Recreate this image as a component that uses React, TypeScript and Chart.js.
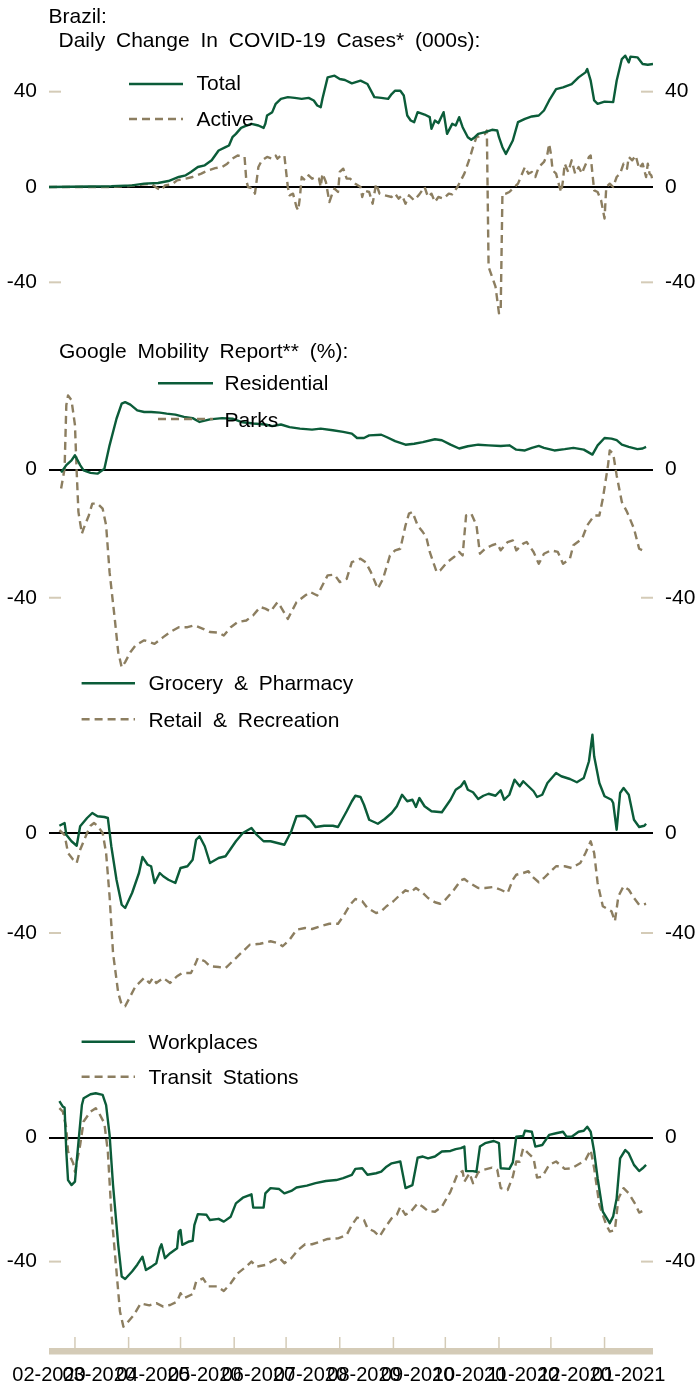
import React, { useEffect, useRef } from "react";
import { Chart, registerables } from "chart.js";

Chart.register(...registerables);

const FONT = "'Liberation Sans', Arial, Helvetica, sans-serif";
const GREEN = "#0b5c39";
const TAN = "#8c7e60";
const AXIS_TAN = "#d4cbb7";

Chart.defaults.font.family = FONT;
Chart.defaults.color = "#000";

// x values are day numbers counted from 1 Feb 2020 (day 0)
const monthLabels = ["02-2020", "03-2020", "04-2020", "05-2020", "06-2020", "07-2020", "08-2020", "09-2020", "10-2020", "11-2020", "12-2020", "01-2021"];
const labelDays = [14, 43, 74, 104, 135, 165, 196, 227, 257, 288, 318, 349];
const monthStartDays = [29, 60, 90, 121, 151, 182, 213, 243, 274, 304, 335];
const X_MIN = 14;
const X_MAX = 363;

// Panel 1: daily change in COVID-19 cases (000s)
const totalDays = [14, 50, 62, 69, 77, 83, 89, 93, 96, 100, 104, 108, 112, 116, 118, 120, 122, 125, 127, 131, 135, 138, 139, 140, 143, 145, 148, 152, 156, 160, 164, 167, 169, 171, 172, 175, 179, 182, 185, 189, 194, 198, 202, 206, 210, 212, 214, 217, 219, 221, 223, 225, 227, 231, 234, 235, 237, 239, 242, 244, 247, 249, 251, 253, 256, 258, 260, 262, 266, 270, 273, 274, 276, 278, 280, 282, 285, 289, 293, 297, 300, 303, 307, 311, 316, 320, 324, 325, 327, 329, 331, 335, 340, 342, 345, 347, 349, 350, 354, 357, 360, 363];
const totalCases = [0, 0.3, 0.7, 1.4, 1.7, 2.5, 4.2, 4.9, 6.3, 8.4, 9.1, 11.2, 15.3, 16.7, 17.4, 20.9, 22.3, 24.8, 25.4, 26.5, 25.8, 24.8, 26.5, 30, 31.4, 34.9, 37, 37.7, 37.4, 37, 37.4, 36.3, 34.2, 33.5, 37, 46, 46.7, 45.3, 44.9, 43.5, 44.6, 43.2, 37.7, 37.4, 37, 39, 40.4, 40.4, 38.4, 30, 27.9, 27.2, 31.4, 30.4, 29.3, 24.4, 27.9, 26.8, 31.4, 22.3, 26.5, 25.8, 29.3, 25.1, 20.9, 19.8, 20.9, 22.3, 23, 24, 23.7, 20.9, 16.7, 13.9, 16.7, 19.5, 27.2, 28.6, 29.6, 30, 32.1, 36.3, 41.1, 41.8, 43.2, 46, 48.1, 49.5, 44.6, 36.3, 34.9, 35.8, 35.6, 44.6, 53.7, 55.1, 52.3, 54.7, 54.4, 51.6, 51.3, 51.6];

const activeDays = [14, 50, 60, 69, 73, 77, 79, 81, 85, 88, 93, 97, 102, 106, 110, 114, 117, 120, 123, 126, 127, 128, 129, 132, 133, 135, 137, 140, 143, 145, 146, 148, 150, 152, 153, 155, 157, 158, 159, 160, 162, 164, 166, 168, 170, 171, 172, 174, 176, 178, 179, 181, 182, 184, 186, 188, 191, 194, 195, 196, 199, 201, 203, 205, 208, 212, 214, 216, 218, 220, 222, 225, 228, 231, 233, 235, 237, 239, 242, 245, 247, 250, 252, 254, 257, 259, 261, 264, 266, 267, 268, 272, 274, 275, 276, 278, 280, 283, 285, 287, 289, 291, 293, 295, 297, 298, 300, 302, 303, 304, 305, 307, 309, 310, 311, 312, 314, 316, 318, 320, 322, 323, 326, 327, 328, 329, 331, 333, 335, 336, 338, 340, 342, 344, 346, 348, 349, 351, 353, 355, 357, 359, 360, 361, 362, 363];
const activeCases = [0, 0, 0.4, 1.1, 1.4, -0.7, -1.4, 0.7, 1.1, 2.8, 3.5, 4.2, 5.6, 7, 7.9, 8.4, 9.8, 11.9, 13.2, 12.8, 12.6, 2.8, 0, -0.7, -2.8, 8.4, 11.2, 12.6, 11.9, 13.2, 11.9, 13.2, 13.2, 0, -3.5, -2.8, -8.4, -9.8, -4.2, 4.2, 2.8, 4.9, 3.5, 4.2, 3.5, 0, 5.6, 2.1, -6.3, -2.1, -0.7, -2.1, 6.3, 7.7, 3.5, 3.5, 1.4, 0, -4.2, -1.4, -2.1, -7, 1.4, -2.8, -3.5, -4.2, -2.8, -4.9, -3.5, -7, -3.5, -5.6, -3.1, 0, -4.2, -2.8, -6.3, -4.2, -4.9, -2.8, -3.1, 0, 2.8, 5.6, 11.9, 16.7, 20.9, 21.6, 22.3, 23.7, -33.5, -41.8, -53, -51.6, -2.8, -2.8, -2.1, 0, 1.4, 4.9, 8.4, 5.6, 6.3, 4.2, 8.4, 9.1, 10.5, 13.9, 18.1, 13.9, 7, 5.6, 0, -2.1, 2.8, 9.8, 6.3, 11.2, 5.6, 8.4, 5.6, 7.7, 12.6, 13.2, 5.6, -1.4, -2.1, -5.6, -13.2, 0, 1.4, 0, 4.2, 5.6, 9.8, 7.7, 12.6, 11.2, 13.2, 7.7, 9.8, 4.2, 9.8, 5.6, 4.9, 2.1];

// Panel 2: Google mobility, residential and parks (%)
const residentialDays = [21, 24, 27, 29, 32, 34, 38, 42, 46, 49, 53, 56, 58, 61, 65, 69, 73, 78, 82, 87, 92, 97, 101, 107, 114, 120, 125, 132, 139, 143, 148, 153, 159, 166, 171, 178, 184, 189, 192, 196, 199, 206, 209, 214, 220, 225, 230, 237, 241, 246, 251, 256, 262, 268, 275, 280, 284, 289, 293, 297, 300, 306, 312, 317, 323, 328, 331, 335, 339, 342, 345, 349, 354, 357, 359];
const residential = [-0.9, 1.4, 2.9, 4.5, 1.4, -0.2, -1, -1.25, 0.3, 7.6, 15.9, 20.6, 21.1, 20.3, 18.5, 18, 18, 17.8, 17.5, 17.2, 16.5, 16.1, 14.9, 15.7, 16.1, 15.9, 14.9, 14.4, 14.1, 13.6, 14.1, 13.3, 12.8, 12.5, 12.8, 12.3, 11.8, 11.25, 9.9, 9.9, 10.7, 10.9, 10.2, 8.9, 7.8, 8.1, 8.6, 9.5, 9.2, 7.8, 6.6, 7.3, 7.8, 7.6, 7.4, 7.6, 6.25, 6, 6.8, 7.4, 6.8, 6, 6.4, 6.8, 6.25, 4.7, 7.6, 9.9, 9.7, 9.2, 7.8, 7.1, 6.4, 6.6, 7.1];

const parksDays = [21, 23, 24, 25, 27, 29, 30, 31, 33, 34, 37, 39, 42, 45, 47, 49, 52, 54, 56, 58, 61, 64, 69, 72, 75, 80, 84, 89, 94, 98, 103, 107, 112, 115, 119, 123, 128, 132, 136, 139, 142, 146, 148, 152, 154, 157, 162, 165, 169, 171, 175, 179, 182, 186, 189, 194, 197, 200, 204, 207, 211, 214, 217, 220, 222, 224, 227, 230, 232, 234, 238, 240, 244, 248, 251, 253, 255, 258, 261, 263, 266, 270, 273, 275, 279, 282, 284, 288, 290, 294, 297, 300, 304, 308, 311, 315, 317, 322, 325, 329, 332, 334, 337, 338, 340, 342, 345, 348, 352, 355, 357, 359];
const parks = [-5.9, 0.3, 20.1, 23.2, 21.7, 13.9, -0.7, -13.2, -20, -18.4, -14.3, -10.6, -10.6, -12.2, -17.4, -32, -46.6, -57, -61.7, -60.1, -57, -54.9, -53.3, -53.8, -54.4, -52.3, -50.7, -49.2, -49.2, -48.6, -49.7, -50.7, -50.9, -51.8, -49.2, -47.6, -47.1, -45.5, -42.9, -43.4, -44.3, -41.4, -42.9, -46.6, -44.5, -41.4, -39.3, -38.2, -39.3, -37.2, -33, -32.8, -35.1, -34.1, -28.9, -27.8, -28.9, -32, -37.2, -34.1, -26.8, -25.2, -24.7, -17.4, -13.75, -13.2, -17.4, -19.5, -21, -25.7, -32, -31.5, -28.9, -27.3, -25.7, -26.8, -14.3, -13.75, -17.4, -26.25, -24.7, -23.6, -23.1, -25.2, -22.6, -22.1, -25.2, -23.1, -22.6, -25.7, -29.4, -26.25, -25.2, -25.7, -29.4, -27.8, -23.6, -21.6, -17.4, -14.3, -14.3, -9.1, 1.35, 6, 5, -1.8, -10.1, -13.2, -18.4, -24.7, -25.2, -25.2];

// Panel 3: grocery & pharmacy, retail & recreation (%)
const groceryDays = [20, 23, 24, 27, 30, 32, 36, 39, 42, 46, 48, 50, 53, 56, 58, 62, 66, 68, 71, 73, 75, 78, 80, 83, 87, 90, 94, 97, 99, 101, 104, 107, 112, 116, 118, 122, 126, 131, 134, 138, 142, 146, 150, 154, 157, 162, 165, 168, 173, 178, 181, 186, 189, 191, 194, 196, 199, 204, 208, 212, 215, 218, 221, 224, 226, 228, 231, 235, 241, 246, 249, 252, 254, 256, 259, 262, 265, 268, 272, 275, 277, 280, 283, 286, 288, 291, 294, 296, 299, 302, 307, 310, 315, 319, 323, 326, 328, 329, 332, 335, 339, 340, 342, 344, 346, 349, 352, 355, 358, 359];
const grocery = [2.9, 4, -0.7, -3.3, -5.1, 2.7, 6, 8, 6.7, 6.4, 6, -5.3, -18.7, -28.7, -30, -24, -16, -9.6, -12.7, -13.3, -20, -16, -17.3, -18.7, -20, -14, -13.3, -10.7, -2.7, -1.3, -5.3, -12, -10, -9.3, -7.3, -3.3, 0, 2, -0.7, -3.3, -3.3, -4, -4.7, 0.7, 6.7, 6.9, 5.3, 2.4, 2.9, 2.9, 2.4, 8.7, 12.7, 14.9, 14.4, 11.3, 5.3, 3.7, 5.6, 8, 10.7, 15.3, 12.7, 13.3, 10.4, 14, 10.7, 8.7, 8.3, 13.3, 17.3, 18.7, 20.7, 17.3, 16.3, 13.6, 14.9, 15.7, 14.9, 17.1, 13.3, 15.3, 21.3, 18.7, 20.7, 18.7, 16.7, 14.4, 15.3, 20, 24, 22.7, 21.6, 20.3, 22, 28.7, 39.3, 30.7, 20, 14.7, 13.3, 12, 1.3, 16, 18, 15.3, 5.3, 2.4, 2.9, 3.7];

const retailDays = [20, 23, 25, 28, 30, 32, 36, 38, 40, 42, 45, 47, 49, 51, 54, 56, 58, 61, 64, 69, 72, 74, 76, 80, 84, 88, 91, 96, 98, 100, 104, 107, 112, 116, 121, 125, 130, 136, 142, 146, 149, 153, 157, 162, 166, 171, 176, 181, 184, 188, 191, 195, 198, 203, 206, 209, 213, 216, 220, 223, 226, 230, 233, 237, 240, 243, 248, 252, 254, 257, 262, 266, 271, 275, 279, 282, 284, 288, 291, 293, 297, 300, 304, 307, 312, 316, 321, 324, 327, 329, 331, 334, 339, 341, 343, 346, 349, 352, 355, 357, 359];
const retail = [1.1, -0.7, -8, -10.7, -12, -6.7, 0, 2.9, 4, 2.9, 0, -8, -25.3, -48, -64, -68.7, -69.3, -65.3, -61.3, -58, -60, -58, -60, -58, -60, -57.3, -56, -56, -53.3, -50, -51.3, -53.3, -53.6, -54, -50.7, -48, -44.7, -44.3, -43.3, -44, -45.3, -42.7, -38.7, -38, -38.4, -37.3, -36.3, -36.3, -33.3, -28.7, -26.4, -27.3, -30, -32, -31.3, -29.3, -27.3, -25.3, -22.9, -23.7, -22, -24, -26, -27.7, -28.3, -26.7, -22.7, -18.9, -18.4, -20, -22, -22, -21.6, -22.7, -24, -18.7, -16.7, -16, -15.3, -17.3, -19.7, -18, -15.3, -13.3, -13.3, -14, -12, -8, -3.3, -8, -20, -29.3, -31.3, -35.3, -25.3, -21.3, -22.7, -26, -28.7, -28.7, -28.3];

// Panel 4: workplaces and transit stations (%)
const workplacesDays = [20, 22, 23, 24, 25, 27, 29, 30, 33, 34, 38, 41, 45, 47, 49, 51, 54, 56, 58, 62, 65, 68, 70, 73, 76, 78, 79, 81, 84, 88, 89, 90, 91, 95, 97, 98, 100, 105, 107, 112, 115, 119, 122, 126, 131, 132, 138, 139, 142, 147, 150, 154, 157, 163, 168, 174, 180, 184, 189, 191, 195, 198, 203, 206, 209, 212, 217, 220, 224, 227, 230, 233, 237, 241, 246, 249, 252, 254, 255, 259, 261, 263, 266, 271, 274, 275, 280, 282, 284, 288, 289, 293, 295, 299, 303, 307, 311, 313, 316, 320, 323, 325, 327, 329, 331, 334, 338, 340, 342, 344, 347, 349, 352, 355, 357, 359];
const workplaces = [11.8, 10, 9.7, -4.5, -13.7, -15.3, -14.2, -7.7, 10.5, 12.7, 14, 14.3, 13.8, 10.5, 0.9, -15.3, -34.6, -44.8, -45.6, -43.2, -41, -38.4, -42.7, -41.7, -40.5, -35.7, -34.4, -38.9, -37.3, -35.7, -30.3, -29.8, -34.6, -33.5, -33.3, -28.2, -24.7, -24.9, -26.6, -26.2, -27.1, -25.5, -21.2, -19.4, -18.3, -22.6, -22.6, -18, -16.3, -16.6, -18, -17.2, -16.1, -15.5, -14.7, -14, -13.7, -13.1, -12, -10.1, -9.9, -12, -11.5, -11, -9.4, -8.3, -7.7, -16.3, -15.3, -6.5, -6.1, -6.7, -6.1, -4.5, -4.3, -3.7, -3.4, -2.9, -10.8, -10.8, -11, -2.9, -1.8, -1.1, -1.8, -9.9, -10.1, -8, 0.3, 0.5, 2.2, 1.9, -2.9, -2.4, 0.9, 1.4, 1.9, 0.3, 0.3, 1.9, 2.2, 3.5, 1.9, -4.5, -13.1, -23.9, -27.6, -25.4, -19.6, -6.7, -4, -5.1, -8.8, -10.8, -9.9, -8.8];

const transitDays = [20, 22, 24, 25, 28, 29, 32, 34, 38, 41, 43, 46, 48, 50, 53, 55, 57, 59, 63, 67, 72, 76, 80, 84, 88, 90, 92, 97, 99, 103, 106, 111, 115, 119, 123, 128, 131, 134, 139, 144, 147, 150, 154, 158, 162, 166, 171, 175, 181, 186, 189, 192, 196, 198, 202, 205, 208, 212, 215, 217, 220, 223, 227, 230, 233, 237, 241, 246, 250, 253, 254, 257, 259, 262, 265, 270, 273, 275, 279, 282, 284, 286, 288, 291, 294, 296, 299, 303, 307, 312, 316, 321, 324, 327, 329, 332, 336, 338, 341, 343, 346, 349, 353, 355, 358, 359];
const transit = [9.5, 8.4, 3, -4.5, -8.3, -11, -2.4, 5.2, 8.4, 9.5, 7.8, 4.6, -4.5, -23.9, -43.2, -56.1, -61, -59.9, -57.2, -53.5, -54.1, -53.4, -54.5, -54, -52.9, -50.2, -51.8, -50.5, -46.5, -45.4, -48, -48, -49.5, -47, -43.8, -41.6, -40, -41.6, -41.1, -39.5, -38.7, -40.5, -38.9, -36.2, -34.4, -34.4, -33.5, -32.7, -32.5, -31.4, -28.2, -25.8, -26.6, -29.2, -30.3, -31.9, -29.2, -26, -24.9, -22.3, -24.9, -23.9, -21.2, -22.3, -23.7, -23.9, -22.3, -17.4, -11.8, -10.8, -14.2, -11.5, -14.7, -11.2, -10.4, -9.7, -10.4, -16.3, -16.9, -12.6, -7.7, -7.8, -3.4, -5.1, -6.7, -12.9, -12.6, -8.8, -7.7, -10.1, -9.9, -8.3, -7.2, -4, -9.9, -21.7, -28.2, -30.3, -29.8, -19.6, -16.3, -18, -21.7, -24.2, -23.4, -23];

type Series = { label: string; days: number[]; vals: number[]; dashed: boolean };
type LegendSpec = { x1: number; x2: number; textX: number; lineY: number[]; textY: number[] };
type Note = { text: string; x: number; y: number };
type PanelSpec = {
  top: number;
  height: number;
  padTop: number;
  padBottom: number;
  yMin: number;
  yMax: number;
  yTicks: number[];
  series: Series[];
  legend: LegendSpec;
  notes: Note[];
  showDates: boolean;
};

const panels: PanelSpec[] = [
  {
    top: 0, height: 355, padTop: 44, padBottom: 25,
    yMin: -60, yMax: 60, yTicks: [-40, 0, 40],
    series: [
      { label: "Total", days: totalDays, vals: totalCases, dashed: false },
      { label: "Active", days: activeDays, vals: activeCases, dashed: true },
    ],
    legend: { x1: 129, x2: 183, textX: 196.5, lineY: [84, 119], textY: [90, 126] },
    notes: [
      { text: "Brazil:", x: 48.5, y: 23.3 },
      { text: "Daily Change In COVID-19 Cases* (000s):", x: 58.5, y: 46.5 },
    ],
    showDates: false,
  },
  {
    top: 330, height: 376, padTop: 50, padBottom: 25,
    yMin: -66, yMax: 28, yTicks: [-40, 0],
    series: [
      { label: "Residential", days: residentialDays, vals: residential, dashed: false },
      { label: "Parks", days: parksDays, vals: parks, dashed: true },
    ],
    legend: { x1: 158, x2: 213, textX: 224.5, lineY: [383.3, 419], textY: [390, 426.5] },
    notes: [{ text: "Google Mobility Report** (%):", x: 59, y: 357.5 }],
    showDates: false,
  },
  {
    top: 665, height: 373, padTop: 58, padBottom: 25,
    yMin: -72, yMax: 44, yTicks: [-40, 0],
    series: [
      { label: "Grocery & Pharmacy", days: groceryDays, vals: grocery, dashed: false },
      { label: "Retail & Recreation", days: retailDays, vals: retail, dashed: true },
    ],
    legend: { x1: 81.6, x2: 135, textX: 148.4, lineY: [683.3, 719.3], textY: [690, 726.5] },
    notes: [],
    showDates: false,
  },
  {
    top: 1020, height: 371, padTop: 68, padBottom: 0,
    yMin: -64, yMax: 16, yTicks: [-40, 0],
    series: [
      { label: "Workplaces", days: workplacesDays, vals: workplaces, dashed: false },
      { label: "Transit Stations", days: transitDays, vals: transit, dashed: true },
    ],
    legend: { x1: 81.6, x2: 135, textX: 148.5, lineY: [1041.7, 1076.7], textY: [1048.7, 1084.2] },
    notes: [],
    showDates: true,
  },
];

function decorPlugin(p: PanelSpec) {
  return {
    id: "decor",
    afterDraw(chart: any) {
      const ctx: any = chart.ctx;
      const area = chart.chartArea;
      const ys = chart.scales.y;
      const xs = chart.scales.x;
      const line = (x1: number, y1: number, x2: number, y2: number) => {
        ctx.beginPath();
        ctx.moveTo(x1, y1);
        ctx.lineTo(x2, y2);
        ctx.stroke();
      };
      ctx.save();
      ctx.setLineDash([]);
      ctx.strokeStyle = AXIS_TAN;
      ctx.lineWidth = 2;
      p.yTicks.forEach((v) => {
        if (v === 0) return;
        const py = ys.getPixelForValue(v);
        line(area.left, py, area.left + 12, py);
        line(area.right - 12, py, area.right, py);
      });
      if (p.showDates) {
        ctx.fillStyle = AXIS_TAN;
        ctx.fillRect(area.left, area.bottom + 12, area.right - area.left, 6.5);
        ctx.lineWidth = 1.5;
        monthStartDays.forEach((d) => {
          const px = xs.getPixelForValue(d);
          line(px, area.bottom + 1, px, area.bottom + 12);
        });
      }
      ctx.font = `21px ${FONT}`;
      ctx.textAlign = "left";
      ctx.textBaseline = "alphabetic";
      try {
        ctx.wordSpacing = "5px";
      } catch (e) {
        /* ignore */
      }
      chart.data.datasets.forEach((ds: any, i: number) => {
        ctx.strokeStyle = ds.borderColor;
        ctx.lineWidth = ds.borderWidth;
        ctx.setLineDash(ds.borderDash || []);
        const ly = p.legend.lineY[i] - p.top;
        line(p.legend.x1, ly, p.legend.x2, ly);
        ctx.setLineDash([]);
        ctx.fillStyle = "#000";
        ctx.fillText(ds.label, p.legend.textX, p.legend.textY[i] - p.top);
      });
      ctx.fillStyle = "#000";
      p.notes.forEach((n) => ctx.fillText(n.text, n.x, n.y - p.top));
      ctx.restore();
    },
  };
}

function buildConfig(p: PanelSpec): any {
  const datasets = p.series.map((s) => ({
    label: s.label,
    data: s.days.map((d, i) => ({ x: d, y: s.vals[i] })),
    borderColor: s.dashed ? TAN : GREEN,
    borderWidth: 2.4,
    borderDash: s.dashed ? [8, 5] : [],
    borderJoinStyle: "round",
    pointRadius: 0,
    tension: 0,
    fill: false,
  }));
  const yBase = {
    type: "linear",
    min: p.yMin,
    max: p.yMax,
    afterBuildTicks: (scale: any) => {
      scale.ticks = p.yTicks.map((v) => ({ value: v }));
    },
    ticks: { padding: 12, color: "#000", font: { size: 21, family: FONT }, callback: (v: any) => String(v) },
    border: { display: false },
  };
  return {
    type: "line",
    data: { datasets },
    options: {
      responsive: false,
      maintainAspectRatio: false,
      animation: false,
      devicePixelRatio: 1,
      events: [],
      layout: { padding: { top: p.padTop, bottom: p.padBottom, left: 0, right: 0 } },
      plugins: { legend: { display: false }, tooltip: { enabled: false }, title: { display: false } },
      scales: {
        x: {
          type: "linear",
          min: X_MIN,
          max: X_MAX,
          display: p.showDates,
          afterBuildTicks: (scale: any) => {
            scale.ticks = labelDays.map((v) => ({ value: v }));
          },
          afterFit: (s: any) => {
            if (p.showDates) s.height = 55;
          },
          grid: { display: false, drawTicks: true, tickLength: 27 },
          border: { display: false },
          ticks: {
            autoSkip: false,
            maxRotation: 0,
            minRotation: 0,
            padding: 0,
            color: "#000",
            font: { size: 20, family: FONT },
            callback: (_v: any, i: number) => monthLabels[i],
          },
        },
        y: {
          ...yBase,
          position: "left",
          afterFit: (s: any) => {
            s.width = 49;
          },
          grid: {
            drawTicks: false,
            color: (c: any) => (c.tick && c.tick.value === 0 ? "#000" : "rgba(0,0,0,0)"),
            lineWidth: (c: any) => (c.tick && c.tick.value === 0 ? 2 : 0),
          },
        },
        y2: {
          ...yBase,
          position: "right",
          afterFit: (s: any) => {
            s.width = 46;
          },
          grid: { display: false, drawTicks: false },
        },
      },
    },
    plugins: [decorPlugin(p)],
  };
}

function Panel({ spec }: { spec: PanelSpec }) {
  const ref = useRef<HTMLCanvasElement>(null);
  useEffect(() => {
    if (!ref.current) return;
    const chart = new Chart(ref.current, buildConfig(spec));
    return () => chart.destroy();
  }, [spec]);
  return (
    <canvas
      ref={ref}
      width={699}
      height={spec.height}
      style={{ position: "absolute", left: 0, top: spec.top, width: 699, height: spec.height, display: "block" }}
    />
  );
}

export default function App() {
  return (
    <div style={{ position: "absolute", left: 0, top: 0, width: 699, height: 1391, background: "#fff", overflow: "hidden" }}>
      {panels.map((p, i) => (
        <Panel key={i} spec={p} />
      ))}
    </div>
  );
}
